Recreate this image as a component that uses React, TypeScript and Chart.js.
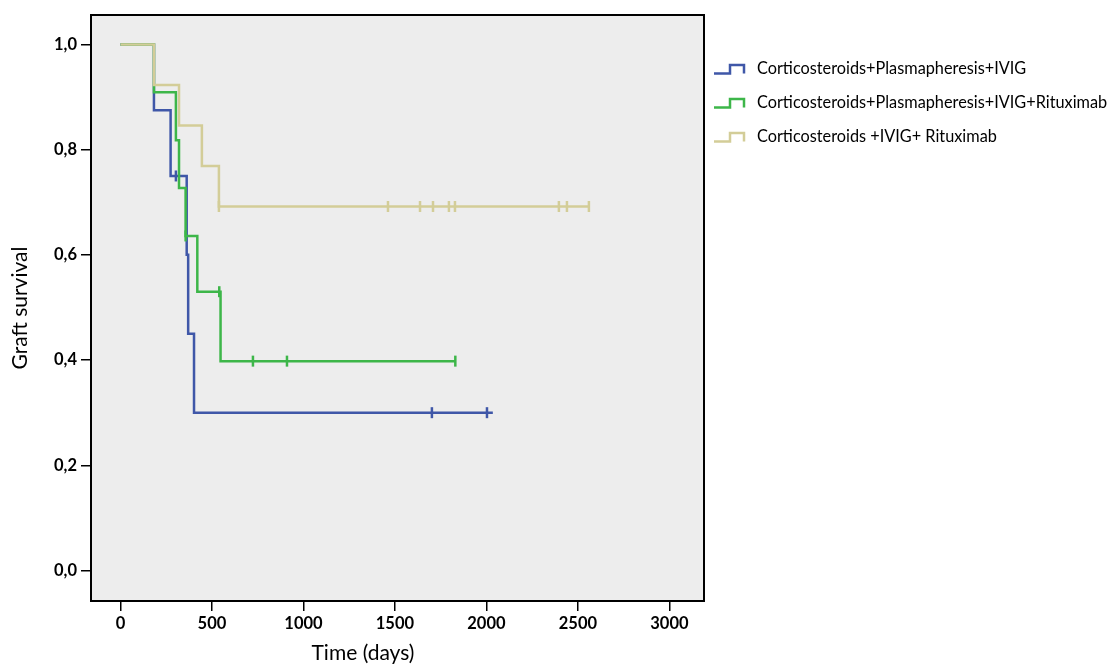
import React, { useEffect, useRef } from "react";
import { Chart, registerables } from "chart.js";

Chart.register(...registerables);

// ---- data ----
const seriesNames = [
  "Corticosteroids+Plasmapheresis+IVIG",
  "Corticosteroids+Plasmapheresis+IVIG+Rituximab",
  "Corticosteroids +IVIG+ Rituximab",
];
const seriesColors = ["#3F57A8", "#3DB649", "#D3CD98"];

const blueTimes = [0, 183, 274, 303, 362, 370, 402, 1702, 2003, 2035];
const blueSurv = [1, 0.875, 0.75, 0.75, 0.6, 0.45, 0.3, 0.3, 0.3, 0.3];
const blueCensored = [0, 0, 0, 1, 0, 0, 0, 1, 1, 0];

const greenTimes = [0, 183, 303, 320, 356, 420, 540, 547, 724, 910, 1830];
const greenSurv = [1, 0.909, 0.818, 0.727, 0.636, 0.53, 0.53, 0.398, 0.398, 0.398, 0.398];
const greenCensored = [0, 0, 0, 0, 1, 0, 1, 0, 1, 1, 1];

const tanTimes = [0, 183, 320, 445, 538, 1462, 1637, 1708, 1795, 1828, 2396, 2440, 2560];
const tanSurv = [1, 0.923, 0.846, 0.769, 0.692, 0.692, 0.692, 0.692, 0.692, 0.692, 0.692, 0.692, 0.692];
const tanCensored = [0, 0, 0, 0, 1, 1, 1, 1, 1, 1, 1, 1, 1];

const xTickValues = [0, 500, 1000, 1500, 2000, 2500, 3000];
const yTickValues = [0, 0.2, 0.4, 0.6, 0.8, 1.0];

const xTitle = "Time (days)";
const yTitle = "Graft survival";

const FONT = "Lato, 'Open Sans', sans-serif";

function toPoints(t: number[], s: number[]) {
  return t.map((v, i) => ({ x: v, y: s[i] }));
}

const framePlugin = {
  id: "frame",
  beforeDatasetsDraw(chart: any) {
    const { ctx, chartArea } = chart;
    ctx.save();
    ctx.fillStyle = "#EDEDED";
    ctx.fillRect(chartArea.left, chartArea.top, chartArea.right - chartArea.left, chartArea.bottom - chartArea.top);
    ctx.restore();
  },
  afterDatasetsDraw(chart: any) {
    const { ctx, chartArea } = chart;
    ctx.save();
    ctx.strokeStyle = "#000";
    ctx.lineWidth = 2;
    ctx.strokeRect(chartArea.left, chartArea.top, chartArea.right - chartArea.left, chartArea.bottom - chartArea.top);
    ctx.restore();
  },
};

export default function App() {
  const ref = useRef<HTMLCanvasElement | null>(null);

  useEffect(() => {
    if (!ref.current) return;
    const all = [
      { t: blueTimes, s: blueSurv, c: blueCensored, order: 2 },
      { t: greenTimes, s: greenSurv, c: greenCensored, order: 1 },
      { t: tanTimes, s: tanSurv, c: tanCensored, order: 0 },
    ];
    const chart = new Chart(ref.current, {
      type: "line",
      data: {
        datasets: all.map((d, i) => ({
          label: seriesNames[i],
          data: toPoints(d.t, d.s),
          borderColor: seriesColors[i],
          backgroundColor: seriesColors[i],
          borderWidth: 2.5,
          stepped: "before",
          fill: false,
          order: d.order,
          pointStyle: "line",
          rotation: 90,
          pointRadius: d.c.map((v) => (v ? 5.5 : 0)),
          pointHoverRadius: 0,
          pointBorderWidth: 2.5,
          pointBorderColor: seriesColors[i],
        })),
      },
      plugins: [framePlugin],
      options: {
        animation: false,
        responsive: false,
        devicePixelRatio: 1,
        layout: { padding: { left: 0, top: 15, right: 412, bottom: 0 } },
        plugins: { legend: { display: false }, tooltip: { enabled: false } },
        scales: {
          x: {
            type: "linear",
            min: -161,
            max: 3189,
            afterBuildTicks: (scale: any) => {
              scale.ticks = xTickValues.map((v) => ({ value: v }));
            },
            afterFit: (scale: any) => {
              scale.height = 65;
            },
            grid: { drawOnChartArea: false, drawTicks: true, tickLength: 10, color: "#000", lineWidth: 1.5 },
            border: { display: false },
            ticks: {
              color: "#000",
              padding: 3,
              maxRotation: 0,
              font: { family: FONT, size: 16.5, weight: "bold" },
              callback: (v: any) => String(v),
            },
          },
          y: {
            type: "linear",
            min: -0.058,
            max: 1.056,
            afterBuildTicks: (scale: any) => {
              scale.ticks = yTickValues.map((v) => ({ value: v }));
            },
            afterFit: (scale: any) => {
              scale.width = 91;
            },
            grid: { drawOnChartArea: false, drawTicks: true, tickLength: 10, color: "#000", lineWidth: 1.5 },
            border: { display: false },
            title: {
              display: true,
              text: yTitle,
              color: "#000",
              font: { family: FONT, size: 21, weight: "normal" },
              padding: { top: 8, bottom: 0 },
            },
            ticks: {
              color: "#000",
              padding: 4,
              font: { family: FONT, size: 16.5, weight: "bold" },
              callback: (v: any) => Number(v).toFixed(1).replace(".", ","),
            },
          },
        },
      },
    } as any);
    return () => chart.destroy();
  }, []);

  const legendY = [68, 102, 136];

  return (
    <div style={{ position: "fixed", left: 0, top: 0, width: 1116, height: 666, background: "#fff" }}>
      <canvas ref={ref} width={1116} height={666} style={{ position: "absolute", left: 0, top: 0 }} />
      <div
        style={{
          position: "absolute",
          left: 363,
          top: 640,
          transform: "translateX(-50%)",
          fontFamily: FONT,
          fontSize: 21,
          color: "#000",
          whiteSpace: "nowrap",
          lineHeight: "24px",
        }}
      >
        {xTitle}
      </div>
      {seriesNames.map((name, i) => (
        <div key={name}>
          <svg
            width={36}
            height={16}
            style={{ position: "absolute", left: 712, top: legendY[i] - 8 }}
          >
            <path
              d="M2 13.5 H18 V5 H32 V13.5"
              fill="none"
              stroke={seriesColors[i]}
              strokeWidth={2.5}
            />
          </svg>
          <div
            style={{
              position: "absolute",
              left: 757,
              top: legendY[i] - 11,
              fontFamily: FONT,
              fontSize: 16.3,
              lineHeight: "22px",
              color: "#000",
              whiteSpace: "nowrap",
            }}
          >
            {name}
          </div>
        </div>
      ))}
    </div>
  );
}
